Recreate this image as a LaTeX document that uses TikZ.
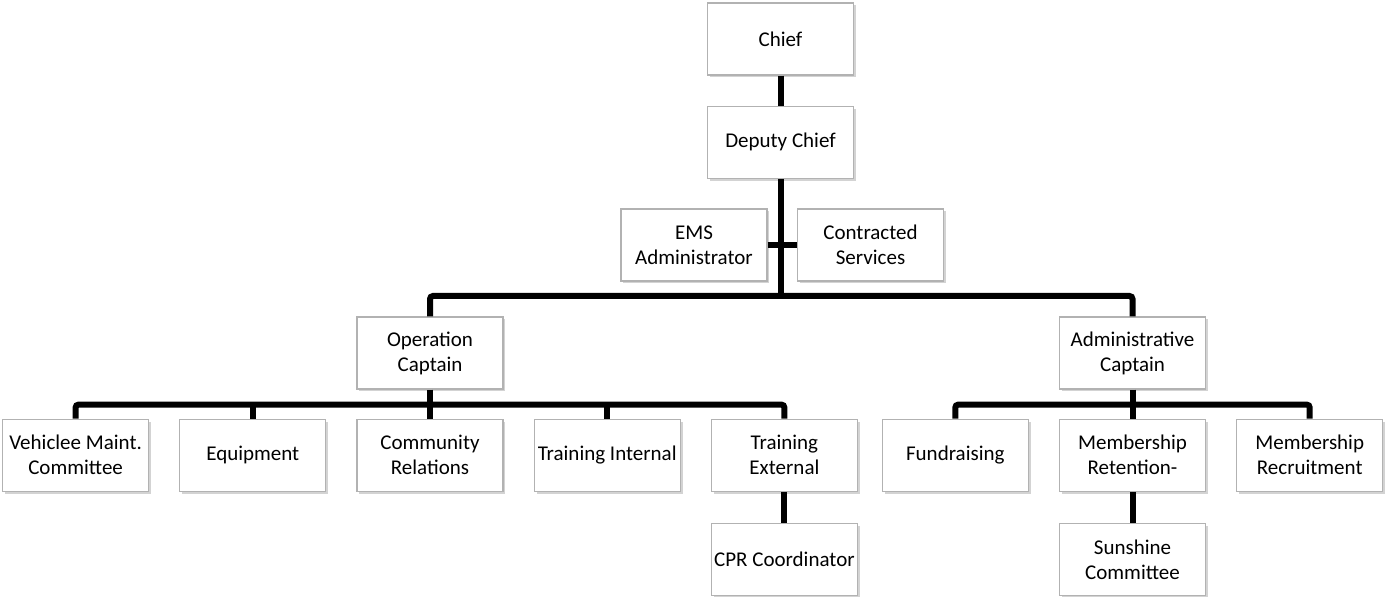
\documentclass[tikz,border=0pt]{standalone}
\usepackage{fontspec}
\setmainfont{Carlito}
\usetikzlibrary{positioning,shadows}

\begin{document}
\begin{tikzpicture}[
    x=0.5pt, y=0.5pt,
    node distance=14.5pt and 15pt,
    box/.style={draw=gray!60, fill=white, line width=0.6pt, minimum width=73pt, minimum height=36pt,
        inner sep=1pt, align=center, font=\fontsize{10.5}{12.5}\selectfont,
        drop shadow={shadow xshift=1.2pt, shadow yshift=-1.2pt, opacity=0.35}},
    link/.style={line width=3pt, rounded corners=1.5pt}
]
\useasboundingbox (0,0) rectangle (1387,597);

\node[box] (chief) at (780.5,558) {Chief};
\node[box, below=15pt of chief] (deputy) {Deputy Chief};
\node[box] (ems) at (694,352) {EMS\\Administrator};
\node[box] (contracted) at (870.5,352) {Contracted\\Services};
\node[box] (opcap) at (430,244) {Operation\\Captain};
\node[box] (admcap) at (1132.5,244) {Administrative\\Captain};

% operation side
\node[box, below=of opcap] (community) {Community\\Relations};
\node[box, left=of community] (equip) {Equipment};
\node[box, left=of equip] (vehicle) {Vehiclee Maint.\\Committee};
\node[box, right=of community] (trainint) {Training Internal};
\node[box, right=of trainint] (trainext) {Training\\External};
\node[box, below=15.5pt of trainext] (cpr) {CPR Coordinator};

% administrative side
\node[box, below=of admcap] (retention) {Membership\\Retention-};
\node[box, left=of retention] (fund) {Fundraising};
\node[box, right=of retention] (recruit) {Membership\\Recruitment};
\node[box, below=15.5pt of retention] (sunshine) {Sunshine\\Committee};

\coordinate (bus) at (780.5,301);

\draw[link] (chief) -- (deputy);
\draw[link] (deputy) -- (bus);
\draw[link] (ems) -- (contracted);
\draw[link] (opcap.north) |- (bus) -| (admcap.north);

\draw[link] (opcap) -- (community);
\draw[link] (vehicle.north) -- ++(0,14) -| (trainext.north);
\foreach \n in {equip,trainint}
    \draw[link] (\n.north) -- ++(0,14);
\draw[link] (trainext) -- (cpr);

\draw[link] (admcap) -- (retention);
\draw[link] (fund.north) -- ++(0,14) -| (recruit.north);
\draw[link] (retention) -- (sunshine);
\end{tikzpicture}
\end{document}
